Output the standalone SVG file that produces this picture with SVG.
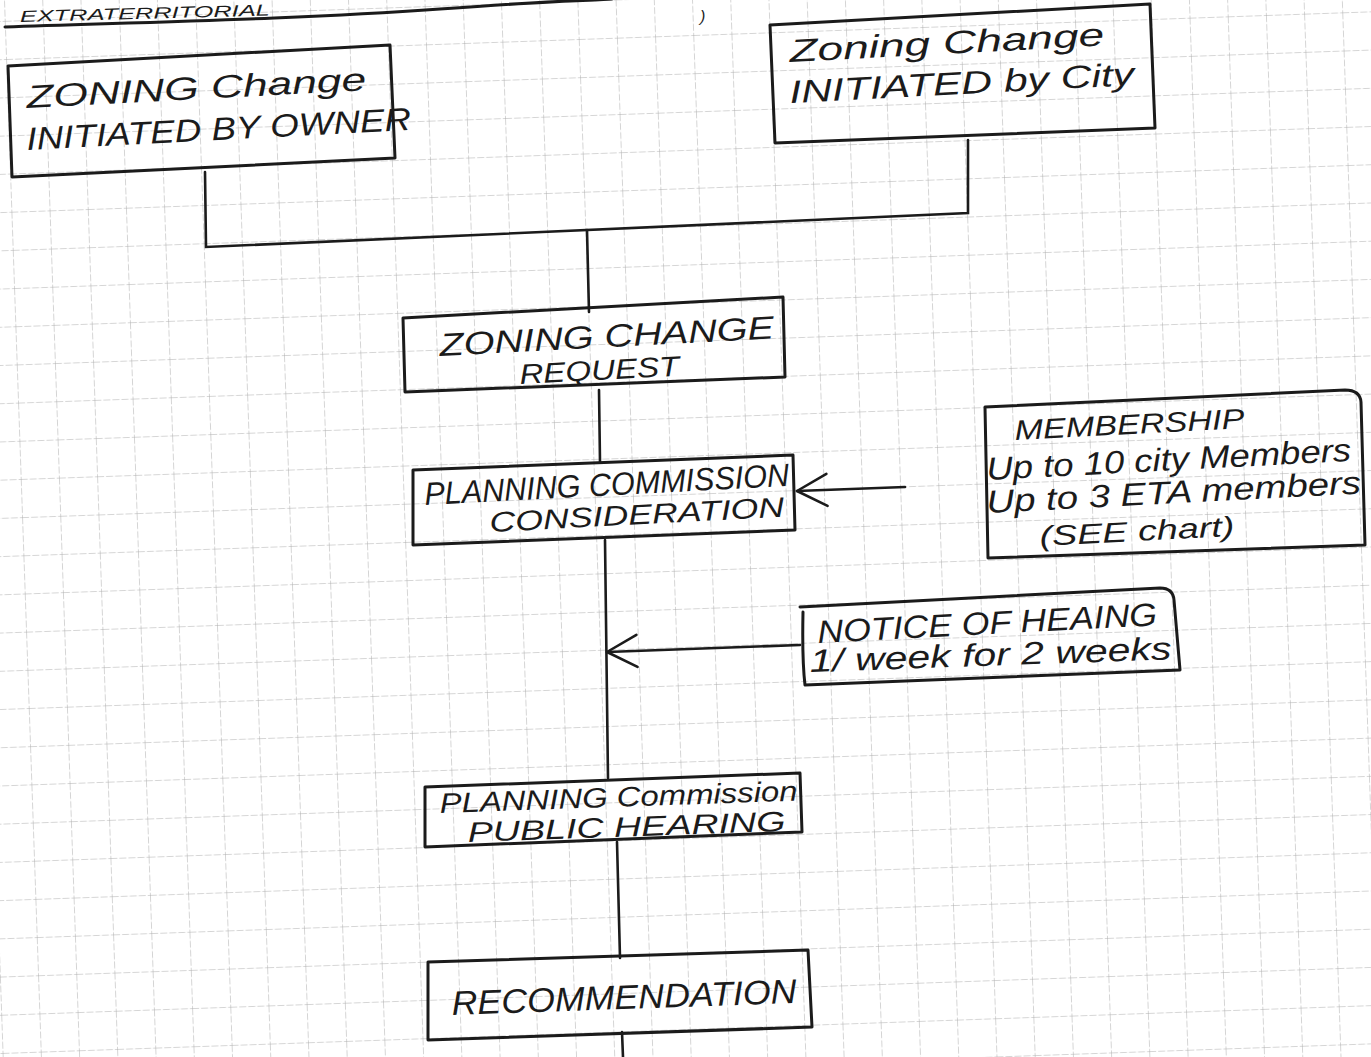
<svg xmlns="http://www.w3.org/2000/svg" width="1371" height="1057" viewBox="0 0 1371 1057">
<defs>
<style>
.box{fill:none;stroke:#1b1b1b;stroke-width:3;stroke-linejoin:round;stroke-linecap:round}
.conn{fill:none;stroke:#1b1b1b;stroke-width:2.6;stroke-linecap:round}
.hw{font-family:"Liberation Sans",Arial,sans-serif;font-style:italic;fill:#1b1b1b;font-size:32px}
.hs{font-size:28px}
.grid{stroke:#ababab;stroke-width:1;stroke-dasharray:7 2}
</style>
<pattern id="grid" patternUnits="userSpaceOnUse" width="38.2" height="38.2" x="4" y="21" patternTransform="rotate(-2)">
<line class="grid" x1="0" y1="0" x2="0" y2="38.2"/>
<line class="grid" x1="0" y1="0" x2="38.2" y2="0"/>
</pattern>
<marker id="chev" markerUnits="userSpaceOnUse" markerWidth="40" markerHeight="40" viewBox="-34 -20 40 40" refX="0" refY="0" orient="auto">
<path d="M-30,-16 L0,0 L-30,16" fill="none" stroke="#1b1b1b" stroke-width="2.6" stroke-linecap="round" stroke-linejoin="round"/>
</marker>
</defs>
<rect width="1371" height="1057" fill="#ffffff"/>
<rect width="1371" height="1057" fill="url(#grid)"/>

<g id="header">
<path class="box" d="M5,27 C150,22 300,19 440,9 S560,2 612,-1"/>
<text class="hw" style="font-size:16px" x="20" y="22" textLength="250" lengthAdjust="spacingAndGlyphs" transform="rotate(-1.5 20 22)">EXTRATERRITORIAL</text>
<text class="hw" style="font-size:16px" x="700" y="22">)</text>
</g>

<g id="connectors">
<path class="conn" d="M205,172 L206,247 L968,213 L968,140"/>
<path class="conn" d="M587,230 L589,312"/>
<path class="conn" d="M599,390 L600,462"/>
<path class="conn" d="M905,487 L797,491" marker-end="url(#chev)"/>
<path class="conn" d="M605,540 L608,778"/>
<path class="conn" d="M800,645 L607,652" marker-end="url(#chev)"/>
<path class="conn" d="M617,842 L620,958"/>
<path class="conn" d="M622,1032 L623,1057"/>
</g>

<g id="owner">
<path class="box" d="M8,66 L390,45 L395,158 L12,177 Z"/>
<text class="hw" x="27" y="108" textLength="340" lengthAdjust="spacingAndGlyphs" transform="rotate(-3 27 108)">ZONING Change</text>
<text class="hw" x="27" y="150" textLength="385" lengthAdjust="spacingAndGlyphs" transform="rotate(-3 27 150)">INITIATED BY OWNER</text>
</g>

<g id="city">
<path class="box" d="M770,25 L1150,4 L1155,128 L775,143 Z"/>
<text class="hw" x="790" y="62" textLength="315" lengthAdjust="spacingAndGlyphs" transform="rotate(-3 790 62)">Zoning Change</text>
<text class="hw" x="790" y="103" textLength="345" lengthAdjust="spacingAndGlyphs" transform="rotate(-3 790 103)">INITIATED by City</text>
</g>

<g id="request">
<path class="box" d="M403,318 L783,297 L785,377 L405,392 Z"/>
<text class="hw" x="440" y="356" textLength="335" lengthAdjust="spacingAndGlyphs" transform="rotate(-3 440 356)">ZONING CHANGE</text>
<text class="hw hs" x="520" y="384" textLength="160" lengthAdjust="spacingAndGlyphs" transform="rotate(-3 520 384)">REQUEST</text>
</g>

<g id="consideration">
<path class="box" d="M413,470 L793,455 L795,530 L413,545 Z"/>
<text class="hw" x="425" y="505" textLength="365" lengthAdjust="spacingAndGlyphs" transform="rotate(-3 425 505)">PLANNING COMMISSION</text>
<text class="hw hs" x="490" y="532" textLength="295" lengthAdjust="spacingAndGlyphs" transform="rotate(-3 490 532)">CONSIDERATION</text>
</g>

<g id="membership">
<path class="box" d="M985,407 L1345,390 Q1360,390 1361,402 L1365,545 L988,558 Z"/>
<text class="hw hs" x="1015" y="440" textLength="230" lengthAdjust="spacingAndGlyphs" transform="rotate(-3 1015 440)">MEMBERSHIP</text>
<text class="hw" x="987" y="480" textLength="365" lengthAdjust="spacingAndGlyphs" transform="rotate(-3 987 480)">Up to 10 city Members</text>
<text class="hw" x="987" y="513" textLength="375" lengthAdjust="spacingAndGlyphs" transform="rotate(-3 987 513)">Up to 3 ETA members</text>
<text class="hw hs" x="1040" y="546" textLength="195" lengthAdjust="spacingAndGlyphs" transform="rotate(-3 1040 546)">(SEE chart)</text>
</g>

<g id="notice">
<path class="box" d="M800,607 L1160,588 Q1173,588 1174,600 L1180,670 L805,685 Q802,660 803,612"/>
<text class="hw" x="818" y="643" textLength="340" lengthAdjust="spacingAndGlyphs" transform="rotate(-3 818 643)">NOTICE OF HEAING</text>
<text class="hw" x="810" y="672" textLength="362" lengthAdjust="spacingAndGlyphs" transform="rotate(-2 810 672)">1/ week for 2 weeks</text>
</g>

<g id="hearing">
<path class="box" d="M425,787 L800,773 L802,832 L425,847 Z"/>
<text class="hw hs" x="440" y="813" textLength="358" lengthAdjust="spacingAndGlyphs" transform="rotate(-2 440 813)">PLANNING Commission</text>
<text class="hw hs" x="468" y="842" textLength="318" lengthAdjust="spacingAndGlyphs" transform="rotate(-2 468 842)">PUBLIC   HEARING</text>
</g>

<g id="recommendation">
<path class="box" d="M428,962 L808,950 L812,1027 L428,1040 Z"/>
<text class="hw" style="font-size:34px" x="452" y="1015" textLength="345" lengthAdjust="spacingAndGlyphs" transform="rotate(-2 452 1015)">RECOMMENDATION</text>
</g>
</svg>
